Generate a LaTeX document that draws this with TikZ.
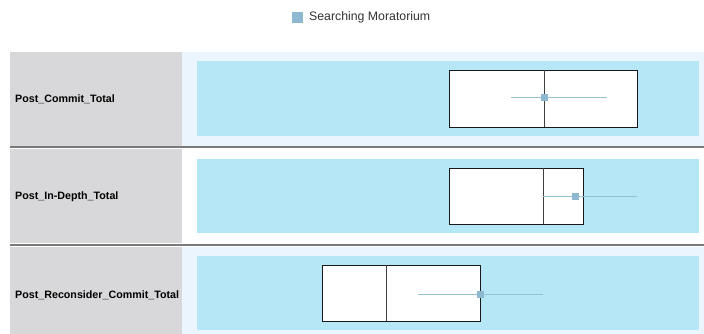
\documentclass[tikz,border=0pt]{standalone}
\usepackage{fontspec}
\setmainfont{Liberation Sans}
\definecolor{graycol}{HTML}{D8D8DA}
\definecolor{lightpanel}{HTML}{EBF5FD}
\definecolor{cyanband}{HTML}{B5E7F6}
\definecolor{sepgray}{HTML}{7A7A7A}
\definecolor{markc}{HTML}{8DB8D0}
\definecolor{whiskc}{HTML}{93C2D6}
\definecolor{legtext}{HTML}{333333}
\begin{document}
\begin{tikzpicture}[x=1pt,y=-1pt,
  lab/.style={anchor=west,font=\fontsize{10.7}{12}\selectfont\bfseries,inner sep=0pt},
  boxp/.style={draw=black!90,line width=0.8pt,fill=white},
  med/.style={draw=black!75,line width=0.9pt},
  whisk/.style={draw=whiskc,line width=1pt},
  meanmark/.style={fill=markc,draw=none},
]
\useasboundingbox (0,0) rectangle (704,334);
\fill[white] (0,0) rectangle (704,334);
% legend
\fill[markc] (292,12) rectangle (303,23);
\node[anchor=west,inner sep=0pt,text=legtext,font=\fontsize{12.3}{14}\selectfont] (leg) at (309,17.5) {Searching Moratorium};
% label column
\fill[graycol] (10,52) rectangle (182,146);
\fill[graycol] (10,149) rectangle (182,243);
\fill[graycol] (10,247) rectangle (182,334);
% panels
\fill[lightpanel] (182,52) rectangle (704,146);
\fill[white] (182,149) rectangle (704,243);
\fill[lightpanel] (182,247) rectangle (704,334);
\fill[cyanband] (197,61) rectangle (699,136);
\fill[cyanband] (197,159) rectangle (699,233);
\fill[cyanband] (197,256) rectangle (699,330);
% separators
\draw[sepgray,line width=2pt] (10,147) -- (704,147);
\draw[sepgray,line width=2pt] (10,245) -- (704,245);
% labels
\node[lab] (l1) at (15,99) {Post\_Commit\_Total};
\node[lab] (l2) at (15,197) {Post\_In-Depth\_Total};
\node[lab] (l3) at (15,295) {Post\_Reconsider\_Commit\_Total};
% row 1
\draw[boxp] (449,70) rectangle (637,127);
\draw[med] (544,70) -- (544,127);
\coordinate (w1a) at (511,98); \coordinate (w1b) at (607,98);
\draw[whisk] (w1a) -- (w1b);
\fill[meanmark] (540.5,94.5) rectangle (547.5,101.5);
% row 2
\draw[boxp] (449,168) rectangle (583,224);
\draw[med] (543,168) -- (543,224);
\coordinate (w2a) at (543,196); \coordinate (w2b) at (637,196);
\draw[whisk] (w2a) -- (w2b);
\fill[meanmark] (571.5,192.5) rectangle (578.5,199.5);
% row 3
\draw[boxp] (322,265) rectangle (480,321);
\draw[med] (386,265) -- (386,321);
\coordinate (w3a) at (418,294); \coordinate (w3b) at (543,294);
\draw[whisk] (w3a) -- (w3b);
\fill[meanmark] (476.5,290.5) rectangle (483.5,297.5);
\end{tikzpicture}
\end{document}
